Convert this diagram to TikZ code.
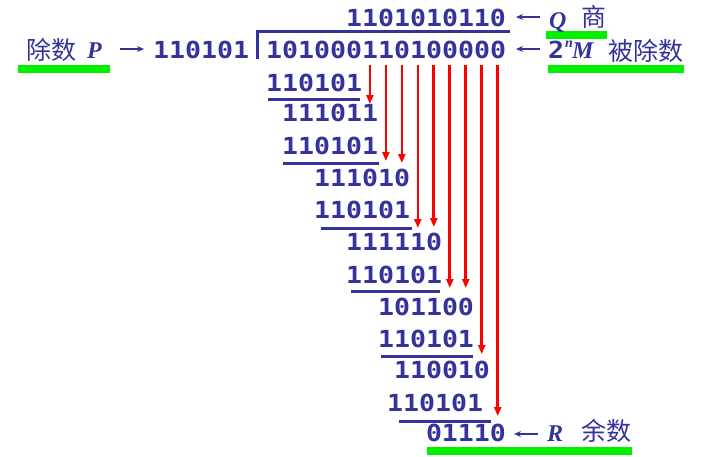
\documentclass[tikz,border=0pt]{standalone}
\usepackage{fontspec}
\usetikzlibrary{arrows.meta}
\newfontfamily\digfont{DejaVu Sans Mono}[FakeStretch=1.13]
\newfontfamily\cjkfont{Noto Sans CJK SC}
\newfontfamily\latfont{Liberation Serif}
\definecolor{ink}{RGB}{51,51,153}
\definecolor{hlgreen}{RGB}{0,240,0}
\definecolor{redarr}{RGB}{255,0,0}
\tikzset{
  num/.style={anchor=west, inner sep=0pt, text=ink, font=\digfont\bfseries\fontsize{23.5}{24}\selectfont},
  han/.style={anchor=base west, inner sep=0pt, text=ink, font=\cjkfont\fontsize{25}{26}\selectfont},
  var/.style={anchor=base west, inner sep=0pt, text=ink, font=\latfont\bfseries\itshape\fontsize{24}{25}\selectfont},
  supvar/.style={anchor=base west, inner sep=0pt, text=ink, font=\latfont\bfseries\itshape\fontsize{14}{15}\selectfont},
  uline/.style={draw=ink, line width=3pt},
  bracket/.style={draw=ink, line width=3pt},
  barrow/.style={draw=ink, line width=1.3pt, -{Stealth[length=7pt,width=6pt]}},
  rarrow/.style={draw=redarr, line width=2.6pt, -{Triangle[length=9pt,width=7pt]}},
  hl/.style={fill=hlgreen, draw=none},
}
\begin{document}
\begin{tikzpicture}[x=1pt,y=-1pt]
\useasboundingbox (0,0) rectangle (706,456);
\def\ox{266}
\def\adv{15.98}
% green highlight bars
\fill[hl] (18,65) rectangle (110,73);
\fill[hl] (546,31) rectangle (607,39);
\fill[hl] (548,65) rectangle (684,73);
\fill[hl] (427,447) rectangle (632,455);
% division bracket
\draw[bracket] (257,59) -- (257,31) -- (510,31);
% numbers
\node[num] (quot) at ({\ox+5*\adv},18) {1101010110};
\node[num] (divd) at (\ox,50) {101000110100000};
\node[num] (dvsr) at (153,50) {110101};
\node[num] (r1) at (\ox,83) {110101};
\node[num] (r2) at ({\ox+1*\adv},113) {111011};
\node[num] (r3) at ({\ox+1*\adv},146) {110101};
\node[num] (r4) at ({\ox+3*\adv},178) {111010};
\node[num] (r5) at ({\ox+3*\adv},210) {110101};
\node[num] (r6) at ({\ox+5*\adv},242) {111110};
\node[num] (r7) at ({\ox+5*\adv},275) {110101};
\node[num] (r8) at ({\ox+7*\adv},307) {101100};
\node[num] (r9) at ({\ox+7*\adv},339) {110101};
\node[num] (r10) at ({\ox+8*\adv},370) {110010};
\node[num] (r11) at (387,403) {110101};
\node[num] (r12) at ({\ox+10*\adv},433) {01110};
% underlines
\draw[uline] (268,99) -- (360,99);
\draw[uline] (283,163) -- (379,163);
\draw[uline] (321,228) -- (412,228);
\draw[uline] (351,291) -- (440,291);
\draw[uline] (381,356) -- (473,356);
\draw[uline] (399,421) -- (491,421);
% labels
\node[han] (lblP) at (26,59) {除数};
\node[var] (P) at (87,58) {P};
\node[var] (Q) at (549,28) {Q};
\node[han] (shang) at (581,26) {商};
\node[num] (two) at (548,50) {2};
\node[supvar] (nsup) at (565,47) {n};
\node[var] (M) at (572,58) {M};
\node[han] (bcs) at (608,60) {被除数};
\node[var] (R) at (547,441) {R};
\node[han] (ys) at (581,440) {余数};
% blue arrows
\coordinate (aPs) at (120,49); \coordinate (aPe) at (144,49);
\coordinate (aQs) at (540,17); \coordinate (aQe) at (516,17);
\coordinate (aMs) at (540,49); \coordinate (aMe) at (516,49);
\coordinate (aRs) at (538,434); \coordinate (aRe) at (514,434);
\draw[barrow] (aPs) -- (aPe);
\draw[barrow] (aQs) -- (aQe);
\draw[barrow] (aMs) -- (aMe);
\draw[barrow] (aRs) -- (aRe);
% red arrows
\foreach \c/\t in {6/104, 7/161, 8/163, 9/228, 10/227, 11/288, 12/288, 13/354, 14/416} {
  \coordinate (rs\c) at ({\ox+(\c+0.5)*\adv},65);
  \coordinate (re\c) at ({\ox+(\c+0.5)*\adv},\t);
  \draw[rarrow] (rs\c) -- (re\c);
}
\end{tikzpicture}
\end{document}
